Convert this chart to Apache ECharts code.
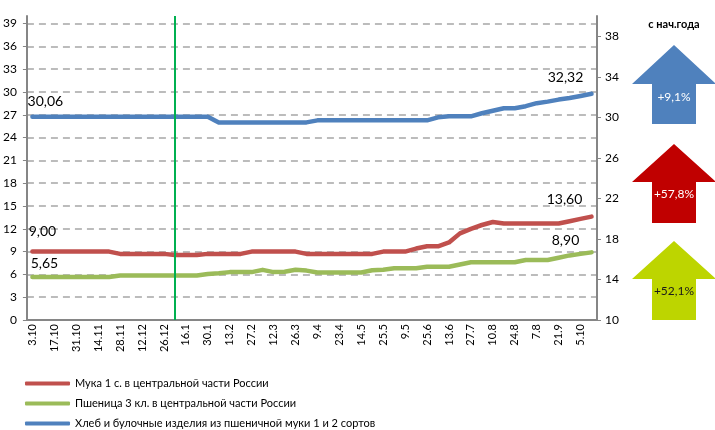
<!DOCTYPE html>
<html>
<head>
<meta charset="utf-8">
<script src="https://cdn.jsdelivr.net/npm/echarts@6/dist/echarts.min.js"></script>
<style>
html,body{margin:0;padding:0;background:#fff;}
#chart{width:715px;height:430px;}
</style>
</head>
<body>
<div id="chart"></div>
<script>
// ---- data ----
const categories = [
  '3.10','10.10','17.10','24.10','31.10','7.11','14.11','21.11','28.11','5.12',
  '12.12','19.12','26.12','9.1','16.1','23.1','30.1','6.2','13.2','20.2',
  '27.2','5.3','12.3','19.3','26.3','2.4','9.4','16.4','23.4','7.5',
  '14.5','18.5','25.5','2.6','9.5','18.6','25.6','6.6','13.6','20.7',
  '27.7','3.8','10.8','17.8','24.8','31.8','7.8','14.9','21.9','28.9',
  '5.10','12.10'
];
const seriesNames = [
  'Мука 1 с. в центральной части России',
  'Пшеница 3 кл. в центральной части России',
  'Хлеб и булочные изделия из пшеничной муки 1 и 2 сортов'
];
const flour = [
  9.00, 9.00, 9.00, 9.00, 9.00, 9.00, 9.00, 9.00, 8.70, 8.70,
  8.70, 8.70, 8.70, 8.55, 8.55, 8.55, 8.70, 8.70, 8.70, 8.70,
  9.00, 9.00, 9.00, 9.00, 9.00, 8.70, 8.70, 8.70, 8.70, 8.70,
  8.70, 8.70, 9.00, 9.00, 9.00, 9.40, 9.70, 9.70, 10.20, 11.40,
  12.00, 12.50, 12.90, 12.70, 12.70, 12.70, 12.70, 12.70, 12.70, 13.00,
  13.30, 13.60
];
const wheat = [
  5.65, 5.65, 5.65, 5.65, 5.65, 5.65, 5.65, 5.65, 5.85, 5.85,
  5.85, 5.85, 5.85, 5.85, 5.85, 5.85, 6.05, 6.15, 6.30, 6.30,
  6.30, 6.60, 6.30, 6.35, 6.60, 6.50, 6.25, 6.25, 6.25, 6.25,
  6.25, 6.55, 6.60, 6.80, 6.80, 6.80, 7.00, 7.00, 7.00, 7.30,
  7.60, 7.60, 7.60, 7.60, 7.60, 7.90, 7.90, 7.90, 8.20, 8.50,
  8.70, 8.90
];
const bread = [
  30.06, 30.06, 30.06, 30.06, 30.06, 30.06, 30.06, 30.06, 30.06, 30.06,
  30.06, 30.06, 30.06, 30.06, 30.06, 30.06, 30.06, 29.50, 29.50, 29.50,
  29.50, 29.50, 29.50, 29.50, 29.50, 29.50, 29.70, 29.70, 29.70, 29.70,
  29.70, 29.70, 29.70, 29.70, 29.70, 29.70, 29.70, 30.00, 30.10, 30.10,
  30.10, 30.40, 30.65, 30.90, 30.90, 31.10, 31.40, 31.55, 31.75, 31.90,
  32.10, 32.32
];
const changeTitle = 'с нач.года';
const changeLabels = ['+9,1%', '+57,8%', '+52,1%'];
const markerCategory = '9.1';

// ---- styles ----
const FONT = 'Lato';
const colors = ['#C0504D', '#9BBB59', '#4F81BD'];
const arrowColors = ['#4F81BD', '#C00000', '#BDD500'];
const arrowTextColors = ['#ffffff', '#ffffff', '#1a1a1a'];
const axisGray = '#868686';

function withEndLabels(values, startOff, endOff) {
  const last = values.length - 1;
  return values.map(function (v, i) {
    if (i === 0) return { value: v, label: { show: true, offset: startOff } };
    if (i === last) return { value: v, label: { show: true, offset: endOff } };
    return v;
  });
}

function lineSeries(name, values, color, yIndex, startOff, endOff) {
  return {
    name: name,
    type: 'line',
    yAxisIndex: yIndex,
    data: withEndLabels(values, startOff, endOff),
    symbol: 'circle',
    symbolSize: 0,
    showSymbol: true,
    showAllSymbol: true,
    itemStyle: { color: color },
    lineStyle: { color: color, width: 4.5, cap: 'round', join: 'round' },
    label: {
      show: false,
      position: 'inside',
      fontFamily: FONT,
      fontSize: 14,
      color: '#000',
      formatter: function (p) { return Number(p.value).toFixed(2).replace('.', ','); }
    },
    emphasis: { disabled: true },
    silent: true
  };
}

function arrow(top, base, bottom, color) {
  const cx = 674, headHalf = 42, shaftHalf = 22;
  return {
    type: 'polygon',
    silent: true,
    shape: {
      points: [
        [cx - shaftHalf, bottom], [cx - shaftHalf, base], [cx - headHalf, base],
        [cx, top], [cx + headHalf, base], [cx + shaftHalf, base], [cx + shaftHalf, bottom]
      ]
    },
    style: { fill: color }
  };
}

const arrowGeom = [[45, 84, 124, 97], [144, 182, 223, 194], [241, 279, 320, 291]];
const graphics = [{
  type: 'text', silent: true, x: 674, y: 24,
  style: { text: changeTitle, align: 'center', verticalAlign: 'middle',
           font: 'bold 11px ' + FONT, fill: '#000' }
}];
arrowGeom.forEach(function (g, k) {
  graphics.push(arrow(g[0], g[1], g[2], arrowColors[k]));
  graphics.push({
    type: 'text', silent: true, x: 674, y: g[3],
    style: { text: changeLabels[k], align: 'center', verticalAlign: 'middle',
             font: '12px ' + FONT, fill: arrowTextColors[k] }
  });
});

const chart = echarts.init(document.getElementById('chart'), null, { renderer: 'canvas' });

const breadSeries = lineSeries(seriesNames[2], bread, colors[2], 1, [13, -15], [-26, -16]);
breadSeries.markLine = {
  silent: true,
  symbol: ['none', 'none'],
  label: { show: false },
  lineStyle: { color: '#00B050', width: 2, type: 'solid' },
  data: [{ xAxis: markerCategory }],
  animation: false
};

chart.setOption({
  animation: false,
  textStyle: { fontFamily: FONT },
  grid: { left: 26, right: 118, top: 16, bottom: 110, containLabel: false },
  legend: {
    orient: 'vertical',
    left: 25,
    top: 378,
    padding: 0,
    icon: 'roundRect',
    itemWidth: 45,
    itemHeight: 4,
    itemGap: 9,
    selectedMode: false,
    textStyle: { fontFamily: FONT, fontSize: 11, color: '#000', lineHeight: 11 },
    data: seriesNames
  },
  xAxis: {
    type: 'category',
    data: categories,
    boundaryGap: true,
    axisLine: { show: true, lineStyle: { color: axisGray, width: 2 } },
    axisTick: { show: false },
    axisLabel: {
      interval: 1, rotate: 90, margin: 4,
      fontFamily: FONT, fontSize: 11, color: '#000'
    },
    splitLine: { show: false }
  },
  yAxis: [
    {
      type: 'value', position: 'left',
      min: 0, max: 40, interval: 3,
      axisLine: { show: true, lineStyle: { color: axisGray, width: 2 } },
      axisTick: { show: true, length: 4, lineStyle: { color: axisGray, width: 1 } },
      axisLabel: { showMaxLabel: false, margin: 10, fontFamily: FONT, fontSize: 12, color: '#000' },
      splitLine: {
        show: true, showMinLine: false, showMaxLine: false,
        lineStyle: { color: '#A6A6A6', width: 1.5, type: [7, 5] }
      }
    },
    {
      type: 'value', position: 'right',
      min: 10, max: 40, interval: 4,
      axisLine: { show: true, lineStyle: { color: axisGray, width: 2 } },
      axisTick: { show: true, length: 4, lineStyle: { color: axisGray, width: 1 } },
      axisLabel: { showMaxLabel: false, margin: 8, fontFamily: FONT, fontSize: 12, color: '#000' },
      splitLine: { show: false }
    }
  ],
  series: [
    lineSeries(seriesNames[0], flour, colors[0], 0, [10, -20], [-27, -17]),
    lineSeries(seriesNames[1], wheat, colors[1], 0, [12, -14], [-26, -12]),
    breadSeries
  ],
  graphic: graphics
});
</script>
</body>
</html>
